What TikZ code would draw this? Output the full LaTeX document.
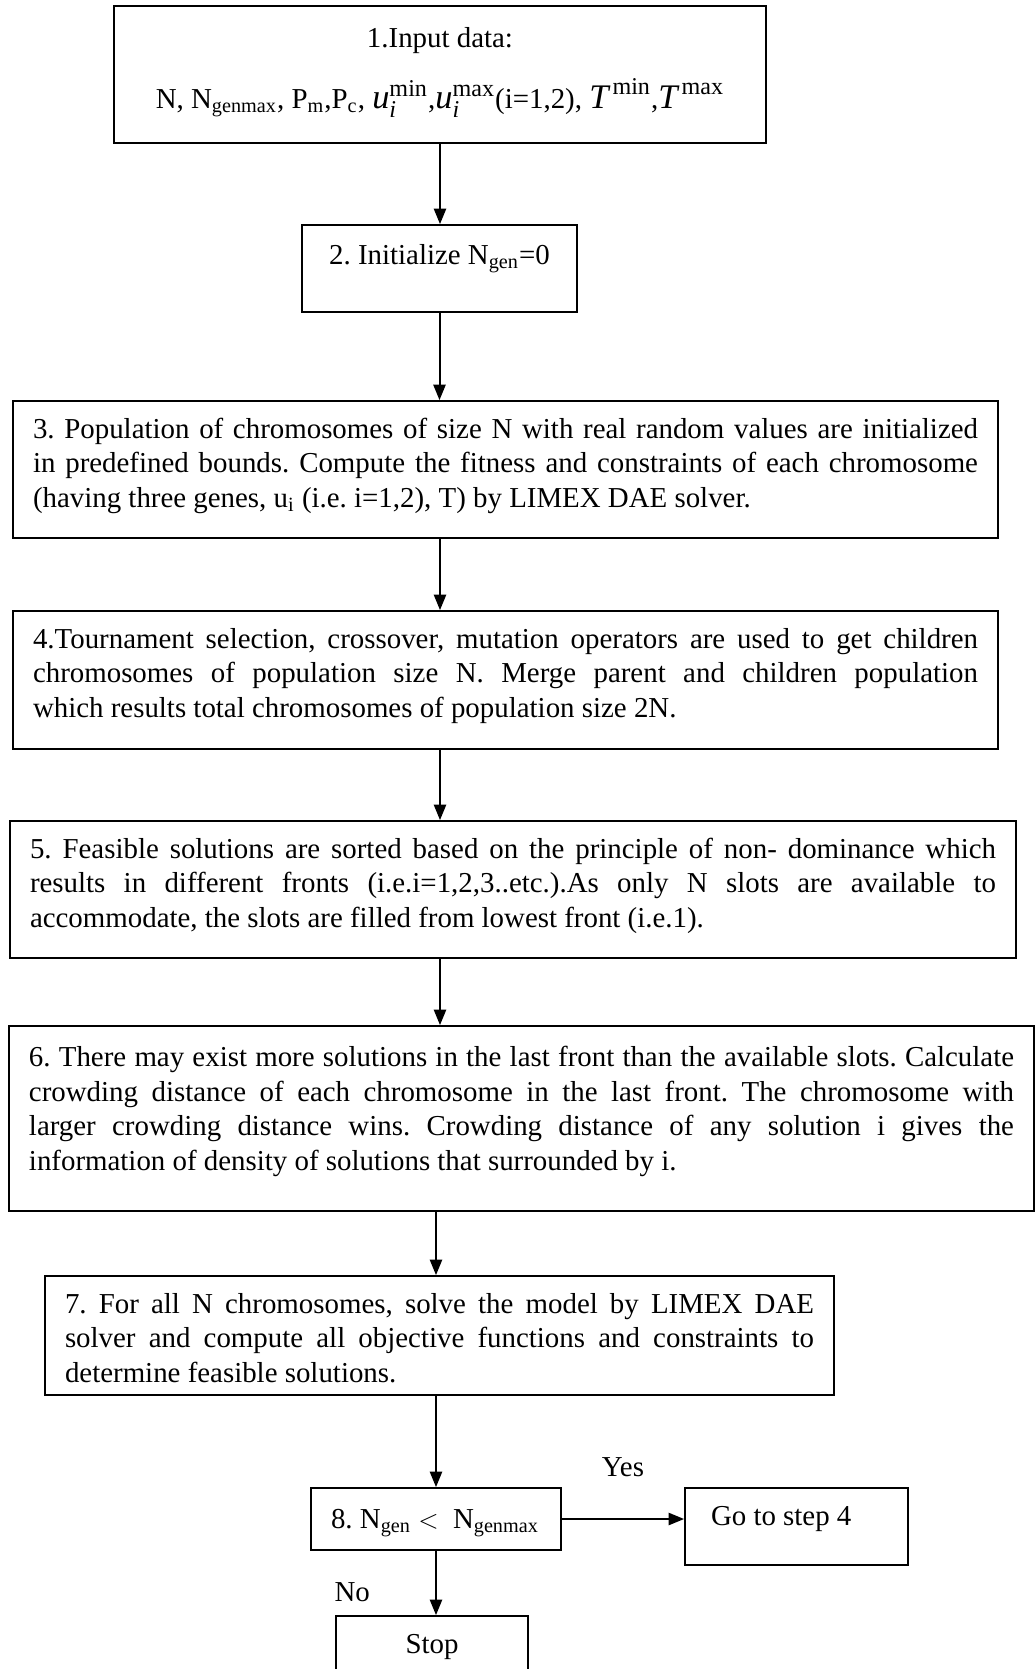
\documentclass[tikz,border=0pt]{standalone}
\usepackage{amsmath}
\usepackage{fontspec}
\setmainfont{Liberation Serif}
\usetikzlibrary{arrows.meta}
\frenchspacing
\newlength{\pxu}
\setlength{\pxu}{0.45pt}
\newcommand{\stepnode}[5]{%
 \node[stepbox] ({#1}) at ({#2}) {%
  \parbox[c][#4\pxu][t]{#3\pxu}{\vspace*{13\pxu}\strut#5}%
 };%
}
\newcommand{\umath}[1]{{\fontsize{15.5pt}{18pt}\selectfont$\textit{u}_{\textit{i}}^{\textrm{#1}}$}}
\newcommand{\tmath}[1]{{\fontsize{15.5pt}{18pt}\selectfont$\textit{T}^{\,\textrm{#1}}$}}

\begin{document}
\begin{tikzpicture}[x=0.45pt,y=-0.45pt,
   stepbox/.style={draw,line width=0.8pt,inner xsep=9pt,inner ysep=0pt,
     font=\fontsize{13pt}{15.6pt}\selectfont},
   lbl/.style={font=\fontsize{13pt}{15.6pt}\selectfont},
   >={Triangle[length=7pt,width=5.5pt]},
   every edge/.style={draw,line width=0.9pt}]
   \useasboundingbox (0,0) rectangle (1035,1669);
   \coordinate (spine) at (440,0);
   \stepnode{b1}{440,74.5}{612}{137}{\centering\rule{0pt}{12.8pt}1.Input data:\\[8.5pt]
      N, N\textsubscript{genmax}, P\textsubscript{m},P\textsubscript{c}, \umath{min},\umath{max}(i=1,2), \tmath{min},\tmath{max}};
   \stepnode{b2}{439.5,268.5}{235}{87}{\centering\rule{0pt}{12pt}2. Initialize N\textsubscript{gen}=0};
   \stepnode{b3}{505.5,469.5}{945}{137}{3. Population of chromosomes of size N with real random values are initialized\linebreak
      in predefined bounds. Compute the fitness and constraints of each chromosome\linebreak
      (having three genes, u\textsubscript{i} (i.e. i=1,2), T) by LIMEX DAE solver.};
   \stepnode{b4}{505.5,680}{945}{138}{4.Tournament selection, crossover, mutation operators are used to get children\linebreak
      chromosomes of population size N. Merge parent and children population\linebreak
      which results total chromosomes of population size 2N.};
   \stepnode{b5}{513,889.5}{966}{137}{5. Feasible solutions are sorted based on the principle of non- dominance which\linebreak
      results in different fronts (i.e.i=1,2,3..etc.).As only N slots are available to\linebreak
      accommodate, the slots are filled from lowest front (i.e.1).};
   \stepnode{b6}{521.5,1118.5}{985}{185}{\rule{0pt}{12.4pt}6. There may exist more solutions in the last front than the available slots. Calculate\linebreak
      crowding distance of each chromosome in the last front. The chromosome with\linebreak
      larger crowding distance wins. Crowding distance of any solution i gives the\linebreak
      information of density of solutions that surrounded by i.};
   \stepnode{b7}{439.5,1335.5}{749}{119}{7. For all N chromosomes, solve the model by LIMEX DAE\linebreak
      solver and compute all objective functions and constraints to\linebreak
      determine feasible solutions.};
   \stepnode{b8}{436,1519}{210}{62}{\rule{0pt}{12.2pt}8. N\textsubscript{gen} $<$\ \ N\textsubscript{genmax}};
   \stepnode{go}{796.5,1526.5}{183}{77}{\hspace*{6\pxu}Go to step 4};
   \stepnode{stop}{432,1656}{152}{80}{\centering Stop};
   \path[->] (b1.south) edge (b1.south |- b2.north);
   \path[->] (b2.south) edge (b2.south |- b3.north);
   \path[->] (spine |- b3.south) edge (spine |- b4.north);
   \path[->] (spine |- b4.south) edge (spine |- b5.north);
   \path[->] (spine |- b5.south) edge (spine |- b6.north);
   \path[->] (b8 |- b6.south) edge (b8 |- b7.north);
   \path[->] (b8 |- b7.south) edge (b8.north);
   \path[->] (b8.east) edge node[lbl,above=15pt]{Yes} (b8.east -| go.west);
   \path[->] (b8.south) edge node[lbl,left=26pt,pos=0.65]{No} (b8.south |- stop.north);
\end{tikzpicture}
\end{document}
